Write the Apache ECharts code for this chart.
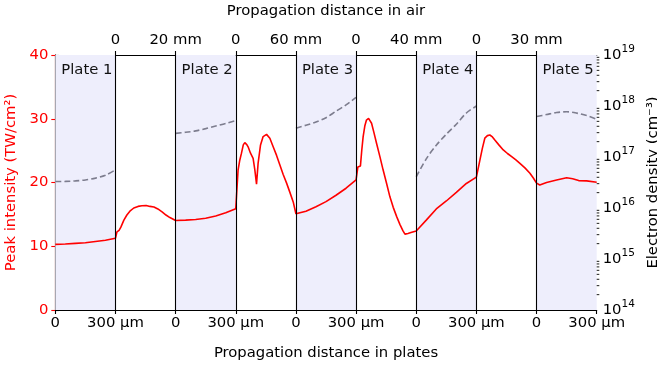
<!DOCTYPE html>
<html>
<head>
<meta charset="utf-8">
<script src="https://cdn.jsdelivr.net/npm/echarts@6/dist/echarts.min.js"></script>
<style>
  html, body { margin: 0; padding: 0; background: #fff; }
  #chart { width: 657px; height: 368px; }
</style>
</head>
<body>
<div id="chart"></div>
<script>
// Five 300 µm plates separated by four air gaps.
const plateLabels = ['Plate 1', 'Plate 2', 'Plate 3', 'Plate 4', 'Plate 5'];
const plateThicknessUm = 300;
const airGapsMm = [20, 60, 40, 30];

// Axis tick labels (bottom: inside plates, top: in air).
const bottomTickLabels = ['0', '300 µm', '0', '300 µm', '0', '300 µm', '0', '300 µm', '0', '300 µm'];
const topTickLabels = ['', '0', '20 mm', '0', '60 mm', '0', '40 mm', '0', '30 mm', ''];
const leftTicks = [0, 10, 20, 30, 40];
const densityTickLabels = ['14', '15', '16', '17', '18', '19'];

// Peak intensity (TW/cm²) inside each plate: [depth µm, value].
const plate1Intensity = [[0, 10.3], [50, 10.35], [100, 10.45], [150, 10.55], [200, 10.75], [250, 10.95], [300, 11.25]];
const plate2Intensity = [[0, 14.05], [50, 14.1], [100, 14.2], [150, 14.4], [200, 14.75], [250, 15.25], [300, 15.9]];
const plate3Intensity = [[0, 15.1], [50, 15.5], [100, 16.2], [150, 17.0], [200, 18.0], [250, 19.1], [300, 20.4]];
const plate4Intensity = [[0, 12.4], [50, 14.1], [100, 15.85], [150, 17.1], [200, 18.45], [250, 19.85], [300, 20.85]];
const plate5Intensity = [[0, 19.9], [16, 19.6], [50, 20.0], [100, 20.4], [150, 20.75], [180, 20.6], [210, 20.3], [250, 20.25], [300, 20.05]];

// Peak intensity (TW/cm²) in each air gap: [distance mm, value].
const air1Intensity = [[0, 11.25], [0.5, 12.25], [1.2, 12.5], [1.8, 13.0], [2.8, 14.1], [3.8, 14.9], [4.8, 15.5], [6.1, 16.0],
  [7.5, 16.25], [8.8, 16.35], [10.2, 16.4], [11.5, 16.25], [12.8, 16.15], [14.1, 15.85], [15.5, 15.4], [16.8, 14.9],
  [18.1, 14.5], [20, 14.05]];
const air2Intensity = [[0, 15.9], [2.3, 21.95], [4, 23.5], [5.7, 24.6], [7.5, 25.9], [9, 26.25], [11, 25.95], [12.3, 25.6],
  [14.7, 24.6], [17.3, 23.8], [19, 22.0], [20.7, 19.75], [22.3, 23.05], [24.7, 25.9], [27.3, 27.2], [30.7, 27.55],
  [34, 26.95], [37.3, 25.6], [40.7, 24.25], [44, 22.75], [47.3, 21.25], [50.7, 19.9], [54, 18.45], [57.3, 16.95], [60, 15.1]];
const air3Intensity = [[0, 20.4], [1.2, 22.45], [2.9, 22.6], [3.8, 25.1], [4.7, 27.2], [5.8, 28.85], [6.9, 29.8], [8.3, 30.05],
  [9.1, 29.9], [10.3, 29.3], [11.8, 27.9], [13.6, 26.15], [15.8, 24.1], [18.0, 21.95], [20.3, 19.85], [22.5, 17.75],
  [24.7, 16.1], [27.0, 14.65], [29.2, 13.4], [31.2, 12.4], [32.5, 11.9], [34.5, 12.0], [36.5, 12.15], [40, 12.4]];
const air4Intensity = [[0, 20.85], [1.75, 23.5], [3.0, 25.4], [4.2, 26.95], [5.5, 27.35], [6.7, 27.45], [8.0, 27.15], [9.2, 26.65],
  [11.2, 25.9], [13.4, 25.1], [15.5, 24.55], [17.6, 24.05], [19.7, 23.55], [21.7, 23.0], [24.2, 22.3], [26.7, 21.45],
  [28.4, 20.7], [30, 19.9]];

// Electron density (cm⁻³) inside each plate: [depth µm, value].
const plate1Density = [[0, 3.3e16], [50, 3.32e16], [100, 3.4e16], [150, 3.55e16], [200, 3.85e16], [250, 4.4e16], [300, 5.6e16]];
const plate2Density = [[0, 2.9e17], [50, 3.05e17], [100, 3.25e17], [150, 3.6e17], [200, 4.05e17], [250, 4.55e17], [300, 5.2e17]];
const plate3Density = [[0, 3.66e17], [50, 4.2e17], [100, 4.85e17], [150, 5.9e17], [200, 7.9e17], [250, 1.05e18], [300, 1.48e18]];
const plate4Density = [[0, 4.1e16], [50, 9.2e16], [100, 1.7e17], [150, 2.8e17], [200, 4.4e17], [250, 7.3e17], [300, 1.0e18]];
const plate5Density = [[0, 6.2e17], [50, 6.8e17], [100, 7.45e17], [150, 7.7e17], [200, 7.25e17], [250, 6.5e17], [300, 5.5e17]];

const plateIntensity = [plate1Intensity, plate2Intensity, plate3Intensity, plate4Intensity, plate5Intensity];
const airIntensity = [air1Intensity, air2Intensity, air3Intensity, air4Intensity];
const plateDensity = [plate1Density, plate2Density, plate3Density, plate4Density, plate5Density];

// Each plate and each gap gets one unit of the shared x axis.
const segmentCount = plateLabels.length + airGapsMm.length;
const plateX = (i, um) => 2 * i + um / plateThicknessUm;
const airX = (i, mm) => 2 * i + 1 + mm / airGapsMm[i];

const intensitySeries = [];
plateIntensity.forEach((pts, i) => {
  pts.forEach(([d, v]) => intensitySeries.push([plateX(i, d), v]));
  if (i < airIntensity.length) {
    airIntensity[i].forEach(([d, v]) => intensitySeries.push([airX(i, d), v]));
  }
});

const densitySeries = [];
plateDensity.forEach((pts, i) => {
  pts.forEach(([d, v]) => densitySeries.push([plateX(i, d), v]));
  if (i < plateDensity.length - 1) densitySeries.push([plateX(i, plateThicknessUm) + 0.5, null]);
});

const plateAreas = plateLabels.map((name, i) => [
  { name: name, xAxis: 2 * i },
  { xAxis: 2 * i + 1 }
]);
const boundaries = [];
for (let k = 1; k < segmentCount; k++) boundaries.push({ xAxis: k });

const minorDensityTicks = [];
for (let e = 14; e < 19; e++) {
  for (let m = 2; m <= 9; m++) minorDensityTicks.push([segmentCount, m * Math.pow(10, e)]);
}

const FONT = 'DejaVu Sans';
const FS = 14.8;

const chart = echarts.init(document.getElementById('chart'), null, { renderer: 'canvas' });
chart.setOption({
  animation: false,
  textStyle: { fontFamily: FONT },
  grid: { left: 55.3, right: 60.3, top: 55, bottom: 58, containLabel: false, outerBoundsMode: 'none' },
  xAxis: [
    {
      type: 'value', position: 'bottom', min: 0, max: segmentCount, interval: 1,
      name: 'Propagation distance in plates', nameLocation: 'middle', nameGap: 36,
      nameTextStyle: { fontSize: FS, color: '#000', fontFamily: FONT },
      axisLine: { lineStyle: { color: '#000', width: 1.1 } },
      axisTick: { show: true, length: 4, lineStyle: { color: '#000', width: 1.1 } },
      axisLabel: { fontSize: FS, color: '#000', fontFamily: FONT, margin: 6,
        formatter: (v) => bottomTickLabels[Math.round(v)] },
      splitLine: { show: false }
    },
    {
      type: 'value', position: 'top', min: 0, max: segmentCount, interval: 1,
      name: 'Propagation distance in air', nameLocation: 'middle', nameGap: 36,
      nameTextStyle: { fontSize: FS, color: '#000', fontFamily: FONT },
      axisLine: { lineStyle: { color: '#000', width: 1.1 } },
      axisTick: { show: true, length: 4, customValues: boundaries.map(b => b.xAxis),
        lineStyle: { color: '#000', width: 1.1 } },
      axisLabel: { fontSize: FS, color: '#000', fontFamily: FONT, margin: 7,
        customValues: boundaries.map(b => b.xAxis),
        formatter: (v) => topTickLabels[Math.round(v)] },
      splitLine: { show: false }
    }
  ],
  yAxis: [
    {
      type: 'value', position: 'left', min: leftTicks[0], max: leftTicks[leftTicks.length - 1], interval: 10,
      name: 'Peak intensity (TW/cm²)', nameLocation: 'middle', nameGap: 27, nameRotate: 90,
      nameTextStyle: { fontSize: FS, color: '#ff0000', fontFamily: FONT },
      axisLine: { show: true, lineStyle: { color: '#ff0000', width: 1.1 } },
      axisTick: { show: true, length: 4, lineStyle: { color: '#ff0000', width: 1.1 } },
      axisLabel: { fontSize: FS, color: '#ff0000', fontFamily: FONT, margin: 7 },
      splitLine: { show: false }
    },
    {
      type: 'log', logBase: 10, position: 'right', min: 1e14, max: 1e19,
      name: 'Electron density (cm⁻³)', nameLocation: 'middle', nameGap: 46, nameRotate: 90,
      nameTextStyle: { fontSize: FS, color: '#000', fontFamily: FONT },
      axisLine: { show: true, lineStyle: { color: '#000', width: 1.1 } },
      axisTick: { show: true, length: 4, lineStyle: { color: '#000', width: 1.1 } },
      axisLabel: {
        margin: 6,
        formatter: (v, idx) => '{b|10}{s|' + densityTickLabels[idx] + '}',
        rich: {
          b: { fontSize: FS, color: '#000', fontFamily: FONT, lineHeight: 22, verticalAlign: 'middle' },
          s: { fontSize: 10.5, color: '#000', fontFamily: FONT, lineHeight: 22, verticalAlign: 'top' }
        }
      },
      splitLine: { show: false }
    }
  ],
  series: [
    {
      name: 'plates', type: 'line', data: [], silent: true,
      markArea: {
        silent: true,
        itemStyle: { color: '#eeeefc' },
        label: { show: true, position: [6, 8], fontSize: FS, color: '#111', fontFamily: FONT },
        data: plateAreas
      },
      markLine: {
        silent: true, symbol: ['none', 'none'],
        label: { show: false },
        lineStyle: { color: '#000', width: 1.1, type: 'solid' },
        data: boundaries
      }
    },
    {
      name: 'Electron density', type: 'line', xAxisIndex: 0, yAxisIndex: 1,
      data: densitySeries, showSymbol: false, smooth: 0.3, connectNulls: false,
      lineStyle: { color: '#7d7d8e', width: 1.6, type: [6, 3] }, z: 3
    },
    {
      name: 'Peak intensity', type: 'line', xAxisIndex: 0, yAxisIndex: 0,
      data: intensitySeries, showSymbol: false, smooth: false,
      lineStyle: { color: '#ff0000', width: 1.6 }, z: 4
    },
    {
      name: 'density minor ticks', type: 'custom', xAxisIndex: 0, yAxisIndex: 1,
      clip: false, silent: true, z: 5,
      data: minorDensityTicks,
      renderItem: (params, api) => {
        const p = api.coord([api.value(0), api.value(1)]);
        return {
          type: 'line',
          shape: { x1: p[0], y1: p[1], x2: p[0] + 2.6, y2: p[1] },
          style: { stroke: '#000', lineWidth: 0.9 }
        };
      }
    }
  ]
});
</script>
</body>
</html>
